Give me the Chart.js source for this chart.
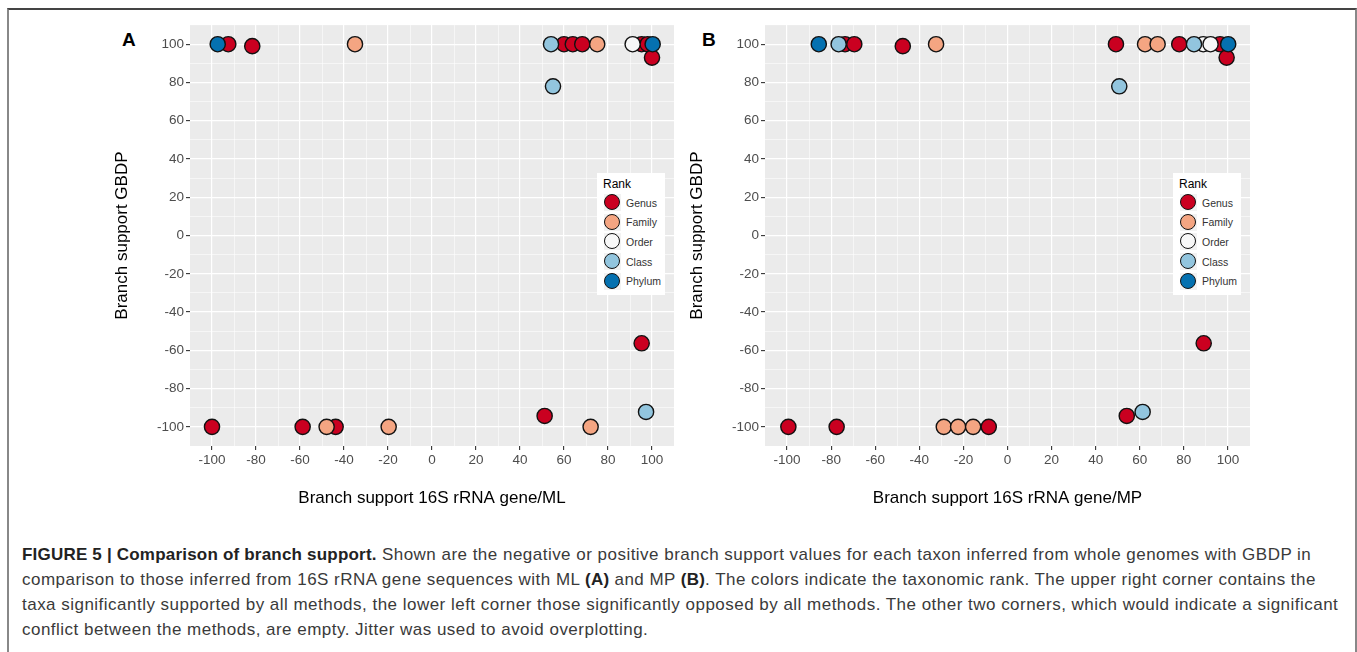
<!DOCTYPE html>
<html><head>
<meta charset="utf-8">
<title>Branch support</title>
<script src="https://cdn.jsdelivr.net/npm/chart.js"></script>
<style>
body { margin: 0; background: #fff; font-family: "Liberation Sans", Arial, sans-serif; }
#frame { position: absolute; left: 7px; top: 8px; width: 1346px; height: 700px;
  border-top: 2px solid #444; border-left: 2px solid #888; border-right: 2px solid #888; }
.box { position: absolute; }
.letter { position: absolute; font-weight: bold; font-size: 19px; color: #000; }
.legend { position: absolute; background: #fff; width: 68px; height: 122px; }
.legend .title { position: absolute; left: 6px; top: 4px; font-size: 12px; color: #000; }
.legend .key { position: absolute; left: 7px; width: 17px; height: 17px; background: #f2f2f2; }
.legend .dot { position: absolute; left: 0; top: 0; width: 14px; height: 14px; border-radius: 50%; border: 1.5px solid #111; }
.legend .lab { position: absolute; left: 29px; font-size: 10.5px; color: #333; }
#caption { position: absolute; left: 22px; top: 542px; font-size: 17px; letter-spacing: 0.48px; line-height: 25px; color: #3a3a3a; white-space: nowrap; }
#caption b { color: #222; letter-spacing: 0.2px; }
</style>
</head>
<body>
<div id="frame"></div>
<div class="letter" style="left:122px; top:29px;">A</div>
<div class="letter" style="left:702px; top:29px;">B</div>
<div class="box" style="left:106px; top:15px;"><canvas id="chartA" width="574" height="497"></canvas></div>
<div class="box" style="left:681px; top:15px;"><canvas id="chartB" width="575" height="497"></canvas></div>
<div class="legend" id="legendA" style="left:597px; top:173px;"></div>
<div class="legend" id="legendB" style="left:1173px; top:173px;"></div>
<div id="caption">
<b>FIGURE 5 | Comparison of branch support.</b> Shown are the negative or positive branch support values for each taxon inferred from whole genomes with GBDP in<br>
comparison to those inferred from 16S rRNA gene sequences with ML <b>(A)</b> and MP <b>(B)</b>. The colors indicate the taxonomic rank. The upper right corner contains the<br>
taxa significantly supported by all methods, the lower left corner those significantly opposed by all methods. The other two corners, which would indicate a significant<br>
conflict between the methods, are empty. Jitter was used to avoid overplotting.
</div>
<script>
var ranks = ['Genus', 'Family', 'Order', 'Class', 'Phylum'];
var rankColors = ['#ca0020', '#f4a582', '#f7f7f7', '#92c5de', '#0571b0'];

// panel A: 16S rRNA gene / ML against GBDP
var genusA_x  = [-92.6, -81.7, 60, 64, 68.3, 95.3, 98, 100, -100, -58.8, -43.8, 51.2, 95.3];
var genusA_y  = [100, 99, 100, 100, 100, 100, 100, 93, -100, -100, -100, -94.3, -56.3];
var familyA_x = [-35, 75.1, -47.9, -19.7, 72.1];
var familyA_y = [100, 100, -100, -100, -100];
var orderA_x  = [91.2];
var orderA_y  = [100];
var classA_x  = [54.1, 55, 97.3];
var classA_y  = [100, 78, -92.2];
var phylumA_x = [-97.4, 100.3];
var phylumA_y = [100, 100];

// panel B: 16S rRNA gene / MP against GBDP
var genusB_x  = [-73.7, -69.5, -47.5, 49.2, 77.9, 96.4, 99.4, -99.4, -77.5, -8.5, 54.1, 89];
var genusB_y  = [100, 100, 99, 100, 100, 100, 93, -100, -100, -100, -94.3, -56.3];
var familyB_x = [-32.4, 62.4, 68.1, -28.9, -22.4, -15.6];
var familyB_y = [100, 100, 100, -100, -100, -100];
var orderB_x  = [88.8, 92.1];
var orderB_y  = [100, 100];
var classB_x  = [-76.6, 84.6, 50.7, 61.3];
var classB_y  = [100, 100, 78, -92.2];
var phylumB_x = [-85.6, 100.1];
var phylumB_y = [100, 100];

var tickValues = [-100, -90, -80, -70, -60, -50, -40, -30, -20, -10, 0, 10, 20, 30, 40, 50, 60, 70, 80, 90, 100];

function points(xs, ys) {
    var out = [];
    for (var i = 0; i < xs.length; i++) {
        out.push({x: xs[i], y: ys[i]});
    }
    return out;
}

var panelBg = {
    id: 'panelBg',
    beforeDraw: function(chart) {
        var a = chart.chartArea;
        var ctx = chart.ctx;
        ctx.save();
        ctx.fillStyle = '#ebebeb';
        ctx.fillRect(a.left, a.top, a.right - a.left, a.bottom - a.top);
        ctx.restore();
    }
};

function axis(title, isY) {
    return {
        type: 'linear',
        min: -110,
        max: 110,
        afterBuildTicks: function(scale) {
            scale.ticks = tickValues.map(function(v) { return {value: v}; });
        },
        afterFit: function(scale) {
            if (isY) { scale.width = 84; } else { scale.height = 66; }
        },
        border: {display: false},
        grid: {
            color: '#ffffff',
            lineWidth: function(c) { return c.tick && c.tick.value % 20 === 0 ? 1.2 : 0.55; },
            tickColor: function(c) { return c.tick && c.tick.value % 20 === 0 ? '#333333' : 'rgba(0,0,0,0)'; },
            tickLength: 4,
            tickWidth: 1.1
        },
        ticks: {
            autoSkip: false,
            maxRotation: 0,
            padding: 2,
            color: '#4d4d4d',
            font: {family: 'Liberation Sans', size: 13.5},
            callback: function(v) { return v % 20 === 0 ? v : ''; }
        },
        title: {
            display: true,
            text: title,
            color: '#000',
            font: {family: 'Liberation Sans', size: 17, lineHeight: 1},
            padding: isY ? {top: 7.5, bottom: 0} : {top: 0, bottom: 5.5}
        }
    };
}

function plot(id, series, xTitle) {
    var datasets = [];
    for (var i = 0; i < ranks.length; i++) {
        datasets.push({
            label: ranks[i],
            data: points(series[i][0], series[i][1]),
            backgroundColor: rankColors[i],
            borderColor: '#111111',
            borderWidth: 1.4,
            pointRadius: 7.6,
            pointHoverRadius: 7.6,
            order: ranks.length - i
        });
    }
    new Chart(document.getElementById(id), {
        type: 'scatter',
        data: {datasets: datasets},
        options: {
            responsive: false,
            animation: false,
            layout: {autoPadding: false, padding: {top: 10, right: 6, left: 0, bottom: 0}},
            plugins: {legend: {display: false}, tooltip: {enabled: false}},
            scales: {
                x: axis(xTitle, false),
                y: axis('Branch support GBDP', true)
            }
        },
        plugins: [panelBg]
    });
}

function legend(id) {
    var el = document.getElementById(id);
    var html = '<div class="title">Rank</div>';
    for (var i = 0; i < ranks.length; i++) {
        var top = 21 + i * 19.7;
        html += '<div class="key" style="top:' + top + 'px"><div class="dot" style="background:' + rankColors[i] + '"></div></div>';
        html += '<div class="lab" style="top:' + (top + 2.5) + 'px">' + ranks[i] + '</div>';
    }
    el.innerHTML = html;
}

plot('chartA', [[genusA_x, genusA_y], [familyA_x, familyA_y], [orderA_x, orderA_y], [classA_x, classA_y], [phylumA_x, phylumA_y]],
     'Branch support 16S rRNA gene/ML');
plot('chartB', [[genusB_x, genusB_y], [familyB_x, familyB_y], [orderB_x, orderB_y], [classB_x, classB_y], [phylumB_x, phylumB_y]],
     'Branch support 16S rRNA gene/MP');
legend('legendA');
legend('legendB');
</script>
</body></html>
